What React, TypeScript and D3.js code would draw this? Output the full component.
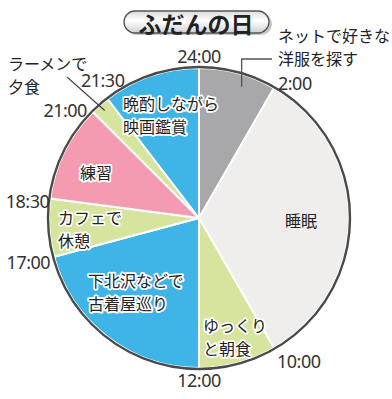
import React, { useEffect, useRef } from 'react';
import * as d3 from 'd3';

// activities of a usual day, hours on a 24h clock
const activities = [
  ['ネットで好きな', '洋服を探す'],
  ['睡眠'],
  ['ゆっくり', 'と朝食'],
  ['下北沢などで', '古着屋巡り'],
  ['カフェで', '休憩'],
  ['練習'],
  ['ラーメンで', '夕食'],
  ['晩酌しながら', '映画鑑賞'],
];
const startHours = [0, 2, 10, 12, 17, 18.5, 21, 21.5];
const endHours = [2, 10, 12, 17, 18.5, 21, 21.5, 24];
const kinds = ['net', 'sleep', 'meal', 'out', 'meal', 'practice', 'meal', 'out'];

const tickHours = [0, 2, 10, 12, 17, 18.5, 21, 21.5];
const tickLabels = ['24:00', '2:00', '10:00', '12:00', '17:00', '18:30', '21:00', '21:30'];

const title = 'ふだんの日';

const palette: Record<string, string> = {
  net: '#a8a8aa',
  sleep: '#efeeec',
  meal: '#d6e49e',
  out: '#3fb4e6',
  practice: '#f59bb1',
};

// label placement relative to the pie centre: [dx, dy, anchor]
const labelLayout: [number, number, string][] = [
  [79, -183, 'start'],
  [86, 2, 'start'],
  [4, 107, 'start'],
  [-111, 62, 'start'],
  [-141, -1, 'start'],
  [-119, -46, 'start'],
  [-191, -155, 'start'],
  [-76, -115, 'start'],
];
// time label nudges from the point on the rim
const tickLayout: [number, number, string][] = [
  [0, -12, 'middle'],
  [4, -5, 'start'],
  [3, 13, 'start'],
  [0, 12, 'middle'],
  [-4, 5, 'end'],
  [-1, 3, 'end'],
  [-6, -2, 'end'],
  [-5, -19, 'middle'],
];

const W = 392;
const H = 399;

export default function App() {
  const ref = useRef<SVGSVGElement>(null);

  useEffect(() => {
    const svg = d3.select(ref.current);
    svg.selectAll('*').remove();

    const cx = 199;
    const cy = 218;
    const r = 150;

    const angle = d3.scaleLinear().domain([0, 24]).range([0, 2 * Math.PI]);
    const polar = (h: number, rad: number) => [
      cx + rad * Math.sin(angle(h)),
      cy - rad * Math.cos(angle(h)),
    ];

    const defs = svg.append('defs');
    const grad = defs.append('linearGradient')
      .attr('id', 'titleGrad')
      .attr('x1', 0).attr('y1', 0).attr('x2', 0).attr('y2', 1);
    grad.append('stop').attr('offset', '0%').attr('stop-color', '#dcdcdc');
    grad.append('stop').attr('offset', '45%').attr('stop-color', '#ffffff');
    grad.append('stop').attr('offset', '100%').attr('stop-color', '#d0d0d0');

    // title pill
    const tg = svg.append('g');
    tg.append('rect')
      .attr('x', 126).attr('y', 13).attr('width', 146).attr('height', 22)
      .attr('rx', 11)
      .attr('fill', '#c8c8c8');
    tg.append('rect')
      .attr('x', 124).attr('y', 11).attr('width', 145).attr('height', 22)
      .attr('rx', 11)
      .attr('fill', 'url(#titleGrad)')
      .attr('stroke', '#555')
      .attr('stroke-width', 1.3);
    tg.append('text')
      .attr('x', 196).attr('y', 23)
      .attr('text-anchor', 'middle')
      .attr('dominant-baseline', 'central')
      .style('font-family', '"Noto Sans CJK JP", sans-serif')
      .style('font-weight', 700)
      .style('font-size', '23px')
      .attr('fill', '#222')
      .text(title);

    // slices
    const arc = d3.arc<any>().innerRadius(0).outerRadius(r);
    const g = svg.append('g').attr('transform', `translate(${cx},${cy})`);
    g.selectAll('path.slice')
      .data(activities.map((a, i) => ({ i })))
      .enter().append('path')
      .attr('class', 'slice')
      .attr('d', (d) => arc({ startAngle: angle(startHours[d.i]), endAngle: angle(endHours[d.i]) }))
      .attr('fill', (d) => palette[kinds[d.i]])
      .attr('stroke', '#fff')
      .attr('stroke-width', 2)
      .attr('stroke-linejoin', 'round');

    // outer rim
    g.append('circle')
      .attr('r', r + 1)
      .attr('fill', 'none')
      .attr('stroke', '#4a4a4a')
      .attr('stroke-width', 2.4);

    // leader lines
    const leader = d3.line();
    const [nx, ny] = polar(1.2, 138);
    svg.append('path')
      .attr('d', leader([[nx, ny], [nx, 59], [272, 59]]))
      .attr('fill', 'none').attr('stroke', '#555').attr('stroke-width', 1.3);
    const [rx0, ry0] = polar(21.25, 143);
    svg.append('path')
      .attr('d', leader([[rx0, ry0], [67, 77]]))
      .attr('fill', 'none').attr('stroke', '#444').attr('stroke-width', 1.2);

    // time labels
    svg.selectAll('text.tick')
      .data(tickHours)
      .enter().append('text')
      .attr('class', 'tick')
      .attr('x', (h, i) => polar(h, r)[0] + tickLayout[i][0])
      .attr('y', (h, i) => polar(h, r)[1] + tickLayout[i][1])
      .attr('text-anchor', (h, i) => tickLayout[i][2])
      .attr('dominant-baseline', 'central')
      .style('font-family', '"Noto Sans", sans-serif')
      .style('font-size', '18px')
      .style('letter-spacing', '-0.5px')
      .attr('fill', '#333')
      .text((h, i) => tickLabels[i]);

    // activity labels
    activities.forEach((lines, i) => {
      const [dx, dy, anchor] = labelLayout[i];
      const t = svg.append('text')
        .attr('x', cx + dx)
        .attr('y', cy + dy)
        .attr('text-anchor', anchor)
        .attr('dominant-baseline', 'central')
        .style('font-family', '"Noto Sans CJK JP", sans-serif')
        .style('font-size', '16px')
        .attr('fill', '#222')
        .attr('stroke', (kinds[i] === 'sleep' || i === 0 || i === 6) ? 'none' : '#fff')
        .attr('stroke-width', 3.5)
        .attr('stroke-linejoin', 'round')
        .attr('paint-order', 'stroke');
      lines.forEach((line, j) => {
        t.append('tspan')
          .attr('x', cx + dx)
          .attr('dy', j === 0 ? 0 : 23)
          .text(line);
      });
    });
  }, []);

  return (
    <svg
      ref={ref}
      width={W}
      height={H}
      style={{ position: 'absolute', left: 0, top: 0, background: '#fff' }}
    />
  );
}
